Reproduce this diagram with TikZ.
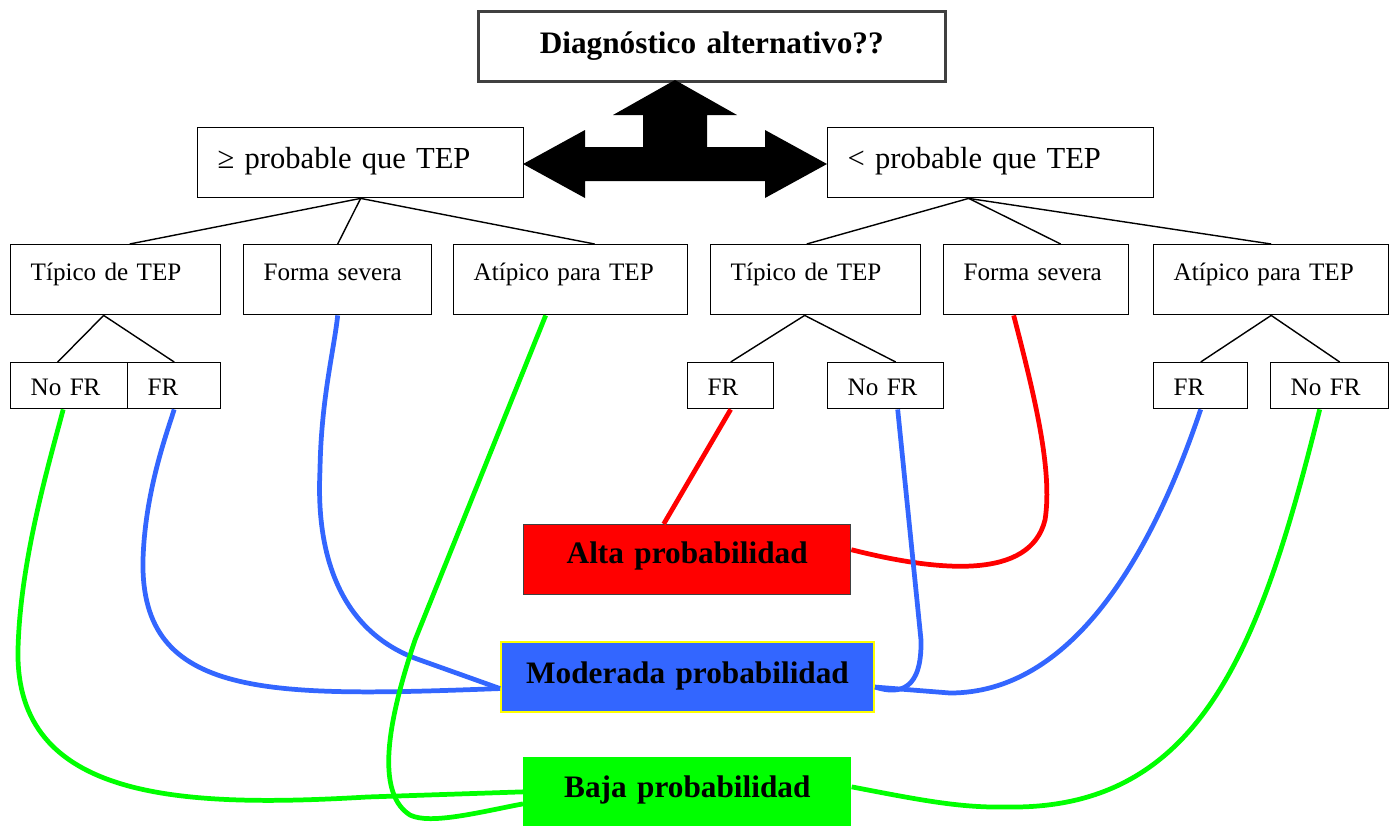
\documentclass[tikz,border=0pt]{standalone}
\usepackage{fontspec}
\setmainfont{Liberation Serif}
\usepackage{tikz}
\usetikzlibrary{positioning}

\definecolor{altared}{HTML}{FF0000}
\definecolor{modblue}{HTML}{3366FF}
\definecolor{bajagreen}{HTML}{00FF00}
\definecolor{modyellow}{HTML}{FFFF00}
\definecolor{topgray}{HTML}{404040}

\begin{document}
\begin{tikzpicture}[x=0.02cm, y=-0.02cm,
    optbox/.style={draw, line width=0.8pt, anchor=north west, align=left, inner xsep=0.4cm, inner ysep=0pt,
        font=\fontsize{14.3}{17}\selectfont, text height=0.72cm, text depth=0.68cm},
    leafbox/.style={optbox, text height=0.66cm, text depth=0.26cm},
    midbox/.style={optbox, font=\fontsize{17.4}{21}\selectfont, text height=0.82cm, text depth=0.58cm},
    probbox/.style={anchor=north west, align=center, inner sep=0pt, font=\fontsize{17.8}{21}\selectfont\bfseries},
    link/.style={line width=2.7pt}]
    \useasboundingbox (0,0) rectangle (1393,826);

    \node[probbox, draw=topgray, line width=1.5pt, text width=9.34cm, text height=0.84cm, text depth=0.56cm] (diag) at (477,10) {Diagnóstico alternativo??};

    \node[midbox, text width=5.72cm] (mayor) at (197,127) {≥ probable que TEP};
    \node[midbox, text width=5.72cm] (menor) at (827,127) {< probable que TEP};

    % big arrow
    \fill (523,164) -- (585,130) -- (585,147) -- (643,147) -- (643,115) -- (613,115) -- (675,80)
        -- (737,115) -- (707,115) -- (707,147) -- (765,147) -- (765,130) -- (827,164)
        -- (765,198) -- (765,181) -- (585,181) -- (585,198) -- cycle;

    \node[optbox, text width=3.4cm] (tipL) at (10,244) {Típico de TEP};
    \node[optbox, text width=2.96cm] (sevL) at (243,244) {Forma severa};
    \node[optbox, text width=3.88cm] (atiL) at (453,244) {Atípico para TEP};
    \node[optbox, text width=3.4cm] (tipR) at (710,244) {Típico de TEP};
    \node[optbox, text width=2.9cm] (sevR) at (943,244) {Forma severa};
    \node[optbox, text width=3.9cm] (atiR) at (1153,244) {Atípico para TEP};

    \node[leafbox, text width=1.54cm] (nofrL) at (10,362) {No FR};
    \node[leafbox, text width=1.06cm, right=-0.8pt of nofrL] (frL) {FR};
    \node[leafbox, text width=0.92cm] (frM) at (687,362) {FR};
    \node[leafbox, text width=1.52cm] (nofrM) at (827,362) {No FR};
    \node[leafbox, text width=1.08cm] (frR) at (1153,362) {FR};
    \node[leafbox, text width=1.56cm] (nofrR) at (1270,362) {No FR};

    \node[probbox, fill=altared, draw=topgray, line width=0.8pt, text width=6.54cm, text height=0.78cm, text depth=0.62cm] (alta) at (523,524) {Alta probabilidad};
    \node[probbox, fill=modblue, draw=modyellow, line width=1.2pt, text width=7.46cm, text height=0.82cm, text depth=0.58cm] (moderada) at (500,641) {Moderada probabilidad};
    \node[probbox, fill=bajagreen, text width=6.56cm, text height=0.8cm, text depth=0.58cm] (baja) at (523,757) {Baja probabilidad};

    % tree
    \draw[line width=0.8pt] (mayor.south) -- ([xshift=0.28cm]tipL.north);
    \draw[line width=0.8pt] (mayor.south) -- (sevL.north);
    \draw[line width=0.8pt] (mayor.south) -- ([xshift=0.48cm]atiL.north);
    \draw[line width=0.8pt] ([xshift=-0.44cm]menor.south) -- ([xshift=-0.18cm]tipR.north);
    \draw[line width=0.8pt] ([xshift=-0.44cm]menor.south) -- ([xshift=0.49cm]sevR.north);
    \draw[line width=0.8pt] ([xshift=-0.44cm]menor.south) -- (atiR.north);
    \draw[line width=0.8pt] ([xshift=-0.24cm]tipL.south) -- ([xshift=-0.23cm]nofrL.north);
    \draw[line width=0.8pt] ([xshift=-0.24cm]tipL.south) -- (frL.north);
    \draw[line width=0.8pt] ([xshift=-0.22cm]tipR.south) -- (frM.north);
    \draw[line width=0.8pt] ([xshift=-0.22cm]tipR.south) -- ([xshift=0.2cm]nofrM.north);
    \draw[line width=0.8pt] (atiR.south) -- (frR.north);
    \draw[line width=0.8pt] (atiR.south) -- ([xshift=0.2cm]nofrR.north);

    % alta
    \draw[link, altared] (frM.south) -- ([xshift=-0.47cm]alta.north);
    \draw[link, altared] ([yshift=0.2cm]alta.east) .. controls (940,572) and (1030,580) .. (1045,520)
        .. controls (1053,470) and (1034,394) .. ([xshift=-0.45cm]sevR.south);

    % moderada
    \draw[link, modblue] ([yshift=-0.23cm]moderada.west) .. controls (270,697) and (140,700) .. (143,560)
        .. controls (145,490) and (168,430) .. (frL.south);
    \draw[link, modblue] ([yshift=-0.23cm]moderada.west) -- (420,660) .. controls (350,636) and (315,570) .. (320,470)
        .. controls (321,400) and (334,350) .. (sevL.south);
    \draw[link, modblue] ([yshift=-0.2cm]moderada.east) .. controls (900,695) and (922,690) .. (921,640)
        -- ([xshift=0.24cm]nofrM.south);
    \draw[link, modblue] ([yshift=-0.2cm]moderada.east) -- (950,693) .. controls (1070,693) and (1150,560) .. (frR.south);

    % baja
    \draw[link, bajagreen] (baja.west) -- (367,797) .. controls (180,808) and (15,800) .. (18,650)
        .. controls (20,560) and (50,460) .. ([xshift=-0.12cm]nofrL.south);
    \draw[link, bajagreen] ([yshift=-0.24cm]baja.west) .. controls (480,812) and (430,825) .. (410,815)
        .. controls (370,790) and (395,700) .. (415,640) -- ([xshift=-0.5cm]atiL.south);
    \draw[link, bajagreen] ([yshift=0.1cm]baja.east) .. controls (920,800) and (960,808) .. (1007,807)
        .. controls (1200,810) and (1260,650) .. ([xshift=-0.2cm]nofrR.south);
\end{tikzpicture}
\end{document}
